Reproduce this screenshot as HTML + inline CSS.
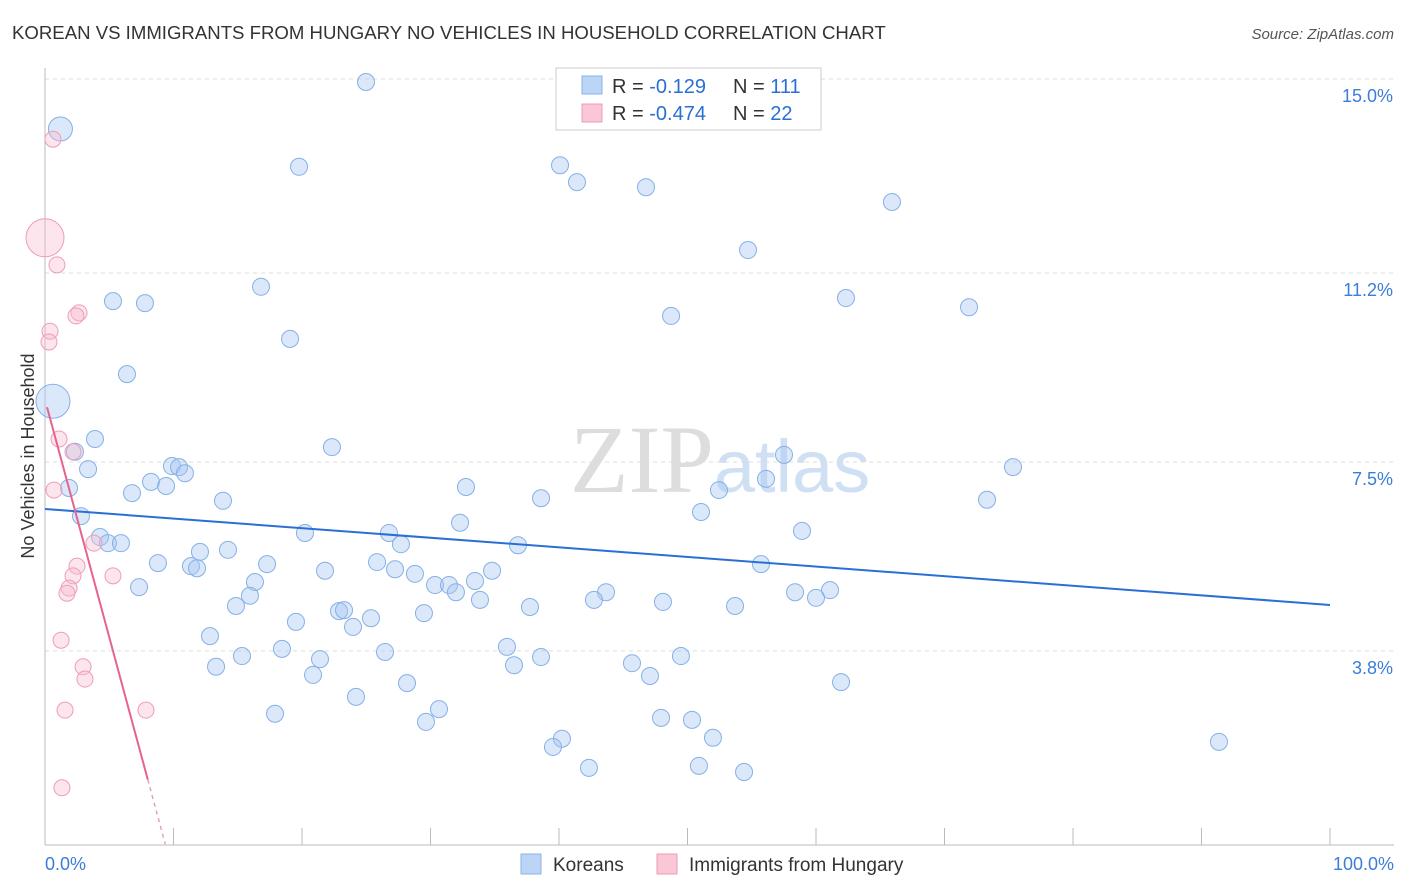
<!DOCTYPE html>
<html><head><meta charset="utf-8"><style>
body{margin:0;background:#fff;font-family:"Liberation Sans",sans-serif;}
#wrap{position:relative;width:1406px;height:892px;overflow:hidden}
</style></head><body>
<div id="wrap">
<svg id="svg" width="1406" height="892">
<text x="12" y="39" font-size="18.6" fill="#333">KOREAN VS IMMIGRANTS FROM HUNGARY NO VEHICLES IN HOUSEHOLD CORRELATION CHART</text>
<text x="1394" y="39" font-size="15" fill="#555" text-anchor="end" font-style="italic">Source: ZipAtlas.com</text>
<text x="720" y="492" font-size="96" fill="#ddd" text-anchor="middle" font-family="Liberation Serif">ZIP<tspan fill="#cfe0f4" font-family="Liberation Sans" font-size="74">atlas</tspan></text>
<g id="grid"></g><g id="axes"></g><g id="pts"></g><g id="trend"></g>
<text transform="translate(34,456) rotate(-90)" font-size="18" fill="#333" text-anchor="middle">No Vehicles in Household</text>
<g>
<rect x="556" y="68" width="265" height="62" fill="#fff" stroke="#ccc"/>
<rect x="582" y="76" width="20" height="18" fill="#bcd4f6" stroke="#8ab4e8"/>
<rect x="582" y="104" width="20" height="18" fill="#f9c7d6" stroke="#f09ab4"/>
<text x="612" y="93" font-size="20" fill="#333">R = <tspan fill="#2a6fd6">-0.129</tspan><tspan x="733">N = </tspan><tspan fill="#2a6fd6">111</tspan></text>
<text x="612" y="120" font-size="20" fill="#333">R = <tspan fill="#2a6fd6">-0.474</tspan><tspan x="733">N = </tspan><tspan fill="#2a6fd6">22</tspan></text>
</g>
<g>
<rect x="521" y="854" width="20" height="20" fill="#bcd4f6" stroke="#8ab4e8"/>
<text x="553" y="871" font-size="19" fill="#333">Koreans</text>
<rect x="657" y="854" width="20" height="20" fill="#f9c7d6" stroke="#f09ab4"/>
<text x="689" y="871" font-size="19" fill="#333">Immigrants from Hungary</text>
</g>
</svg>
<script>
const yTicks=[3.8,7.5,11.2,15.0];
const yTickLabels=["3.8%","7.5%","11.2%","15.0%"];
const xTicks=[0,10,20,30,40,50,60,70,80,90,100];
const koreanX=[1.2,24.98,19.77,40.08,41.4,46.77,65.91,54.71,16.81,5.29,7.78,62.33,71.91,48.72,19.07,6.38,0.62,3.89,22.33,2.33,57.51,3.35,9.88,10.43,10.89,8.25,9.42,1.87,6.77,32.76,75.33,56.11,52.45,13.85,38.6,73.31,2.8,51.05,32.3,20.23,26.77,58.91,4.28,4.9,5.91,27.7,36.81,8.79,12.06,14.24,11.36,11.83,17.28,25.84,21.79,27.24,28.79,34.79,55.72,16.34,7.32,30.35,31.44,33.46,31.98,15.95,43.66,58.37,61.09,14.86,33.85,37.74,42.72,48.09,60.0,53.7,22.88,23.27,25.37,29.49,19.53,23.97,12.84,35.95,18.44,26.46,38.6,49.49,21.4,13.31,15.33,36.5,45.68,20.86,47.08,61.95,28.17,24.2,17.9,30.66,29.65,47.94,50.35,40.23,39.53,51.98,91.36,42.33,50.89,54.4];
const koreanY=[14.02,14.94,13.28,13.31,12.98,12.88,12.59,11.65,10.93,10.65,10.61,10.71,10.53,10.36,9.91,9.22,8.69,7.95,7.79,7.70,7.64,7.36,7.42,7.40,7.28,7.11,7.03,6.99,6.89,7.01,7.40,7.17,6.95,6.74,6.79,6.76,6.44,6.52,6.31,6.11,6.11,6.15,6.03,5.91,5.91,5.89,5.87,5.52,5.74,5.78,5.46,5.42,5.50,5.54,5.37,5.40,5.31,5.37,5.50,5.15,5.05,5.09,5.09,5.17,4.95,4.88,4.95,4.95,4.99,4.68,4.80,4.66,4.80,4.76,4.84,4.68,4.58,4.60,4.44,4.54,4.37,4.27,4.09,3.88,3.84,3.78,3.68,3.70,3.64,3.49,3.70,3.52,3.56,3.33,3.31,3.19,3.17,2.90,2.57,2.66,2.41,2.49,2.45,2.08,1.92,2.10,2.02,1.51,1.55,1.43];
const hungaryX=[0.62,0,0.93,2.65,2.41,0.39,0.31,1.09,2.18,0.7,3.81,2.49,2.18,5.29,1.87,1.71,1.25,2.96,3.11,1.56,7.86,1.32];
const hungaryY=[13.82,11.89,11.36,10.42,10.36,10.06,9.85,7.95,7.70,6.95,5.91,5.46,5.27,5.27,5.03,4.93,4.01,3.49,3.25,2.64,2.64,1.12];
const koreanTrend=[6.58,4.70];
const hungaryTrend=[8.72];
const hungarySlope=-0.93;
const NS="http://www.w3.org/2000/svg";
const X=v=>45+v*12.85, Y=v=>845-v*51.07;
function mk(tag,attrs,parent){const e=document.createElementNS(NS,tag);for(const k in attrs)e.setAttribute(k,attrs[k]);document.getElementById(parent).appendChild(e);return e;}
yTicks.forEach((t,i)=>{
 const l=mk('line',{x1:45,x2:1394,y1:Y(t),y2:Y(t),stroke:'#ddd','stroke-dasharray':'4,4'},'grid');
 
 
 const tx=mk('text',{x:1393,y:Y(t)+23,'font-size':18,fill:'#3b7dd8','text-anchor':'end'},'grid');
 tx.textContent=yTickLabels[i];
 
 
});
const ax=mk('line',{x1:45,x2:45,y1:68,y2:845,stroke:'#bbb'},'axes');


const bx=mk('line',{x1:45,x2:1394,y1:845,y2:845,stroke:'#bbb'},'axes');


xTicks.forEach(t=>{
 const l=mk('line',{x1:X(t),x2:X(t),y1:828,y2:845,stroke:'#bbb'},'axes');
 
 
});
[[0,'0.0%','start',45],[100,'100.0%','end',1394]].forEach(a=>{
 const t=mk('text',{x:a[3],y:870,'font-size':18,fill:'#3b7dd8','text-anchor':a[2]},'axes');
 t.textContent=a[1];
 
 
});
koreanX.forEach((v,i)=>{
 let r=8.5; if(i===0)r=12; if(i===16)r=17;
 const c=mk('circle',{cx:X(v),cy:Y(koreanY[i]),r:r,fill:'rgba(165,198,242,0.4)',stroke:'#86b0e6','stroke-width':1},'pts');
 
 
});
hungaryX.forEach((v,i)=>{
 let r=8; if(i===1)r=19;
 const c=mk('circle',{cx:X(v),cy:Y(hungaryY[i]),r:r,fill:'rgba(248,190,208,0.4)',stroke:'#ef9db7','stroke-width':1},'pts');
 
 
});
const kt=mk('line',{x1:X(0),y1:Y(koreanTrend[0]),x2:X(100),y2:Y(koreanTrend[1]),stroke:'#2a6fd6','stroke-width':2},'trend');


const hy=x=>hungaryTrend[0]+hungarySlope*x;
const ht=mk('line',{x1:X(0.16),y1:Y(hy(0.16)),x2:X(8.0),y2:Y(hy(8.0)),stroke:'#e8628e','stroke-width':2},'trend');


const hd=mk('line',{x1:X(8.0),y1:Y(hy(8.0)),x2:X(9.36),y2:Y(hy(9.36)),stroke:'#e8a0b8','stroke-width':1.5,'stroke-dasharray':'4,4'},'trend');


</script>
</div></body></html>
